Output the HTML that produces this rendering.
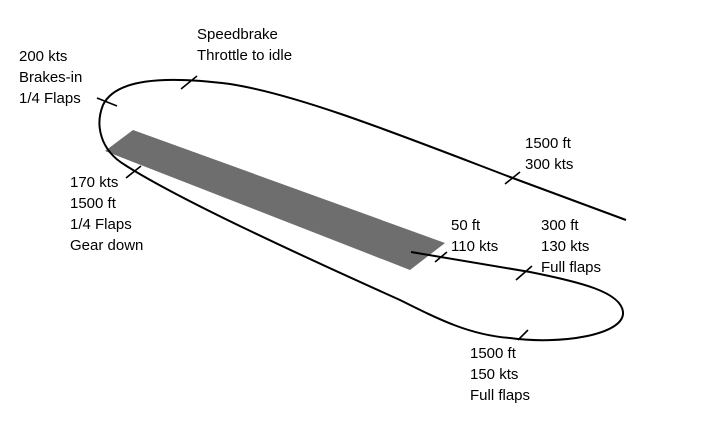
<!DOCTYPE html>
<html><head><style>
body{margin:0;background:#fff;}
.t{position:absolute;font-family:"Liberation Sans",sans-serif;font-size:15px;line-height:21px;color:#000;white-space:nowrap;}
</style></head><body>
<div style="position:relative;width:704px;height:432px;overflow:hidden">
<svg width="704" height="432" style="position:absolute;left:0;top:0">
<polygon points="105,151 133,130 445,243 410,270" fill="#6e6e6e"/>
<path d="M626,220 L510,177 C400,135 300,95 230,84 C160,75 115,80 103,105 C95,125 100,150 125,165 C180,200 300,255 400,300 C440,320 470,335 510,338 C560,345 625,335 623,312 C621,292 580,282 530,272 L411,252" fill="none" stroke="#000" stroke-width="2"/>
<g stroke="#000" stroke-width="1.6">
<line x1="181" y1="89" x2="197" y2="76"/>
<line x1="97" y1="98" x2="117" y2="106"/>
<line x1="126" y1="178" x2="141" y2="166"/>
<line x1="435" y1="262" x2="447" y2="252"/>
<line x1="516" y1="280" x2="532" y2="266"/>
<line x1="518" y1="340" x2="528" y2="330"/>
<line x1="505" y1="184" x2="520" y2="172"/>
</g>
</svg>
<div class="t" style="left:19px;top:46px">200 kts<br>Brakes-in<br>1/4 Flaps</div>
<div class="t" style="left:197px;top:24px">Speedbrake<br>Throttle to idle</div>
<div class="t" style="left:525px;top:133px">1500 ft<br>300 kts</div>
<div class="t" style="left:70px;top:172px">170 kts<br>1500 ft<br>1/4 Flaps<br>Gear down</div>
<div class="t" style="left:451px;top:215px">50 ft<br>110 kts</div>
<div class="t" style="left:541px;top:215px">300 ft<br>130 kts<br>Full flaps</div>
<div class="t" style="left:470px;top:343px">1500 ft<br>150 kts<br>Full flaps</div>
</div>
</body></html>
